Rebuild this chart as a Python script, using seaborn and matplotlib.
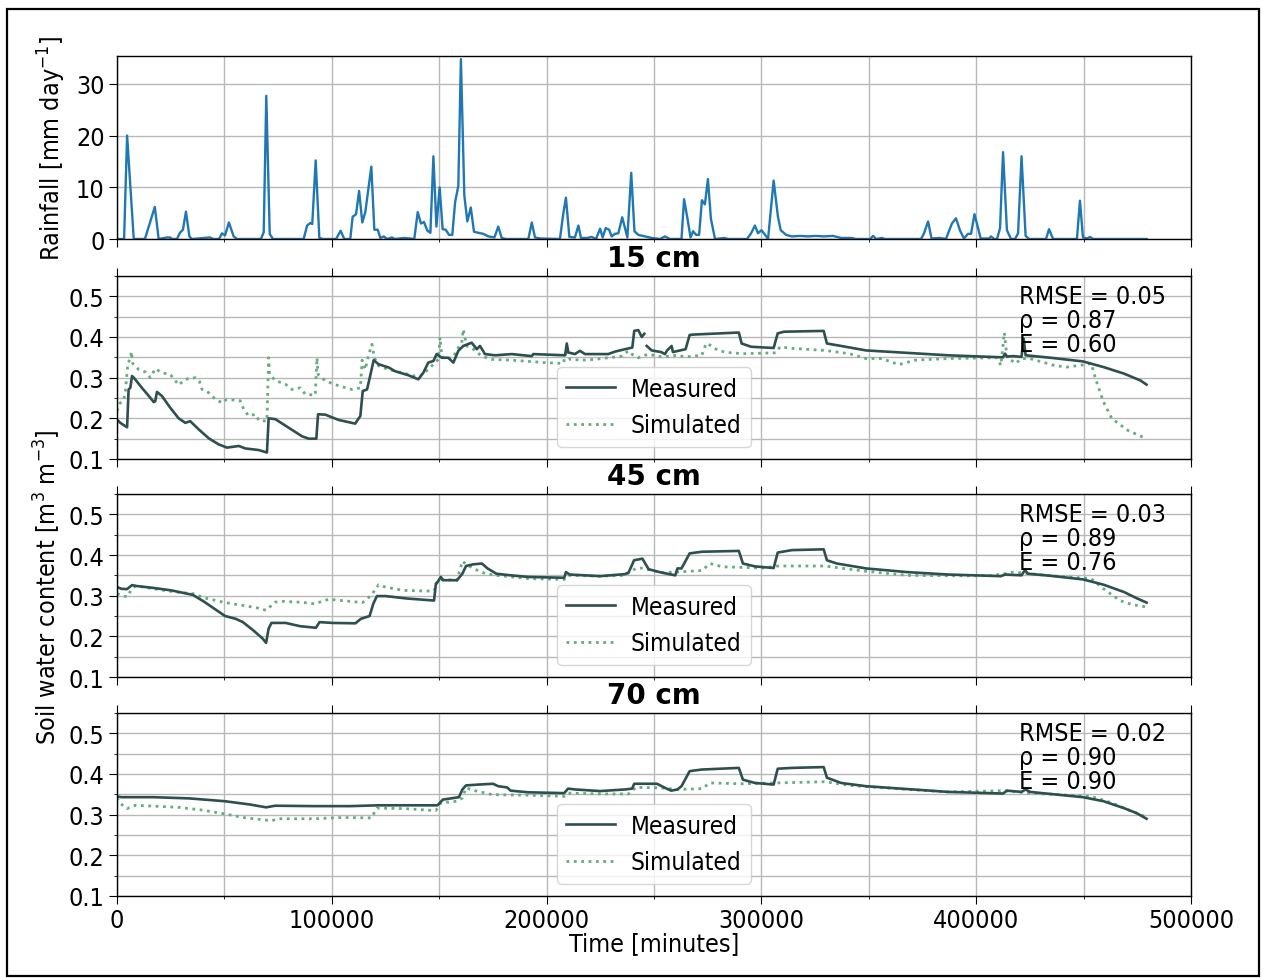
import numpy as np
import pandas as pd
import matplotlib
matplotlib.use("Agg")
import matplotlib.pyplot as plt
from matplotlib.patches import Rectangle
from matplotlib.lines import Line2D
from matplotlib.ticker import MultipleLocator
import seaborn as sns

# ---------------------------------------------------------------- data
rain_time = [
    0, 3300, 4700, 7800, 13000, 17600, 19400, 23300, 24700, 25600,
    27900, 29300, 30700, 32100, 33700, 34900, 43300, 44700, 47500, 48900,
    50300, 52100, 54300, 55900, 67000, 68300, 69500, 71100, 72600, 86900,
    88500, 90000, 90900, 92500, 94200, 95900, 102000, 104100, 105800, 108600,
    109700, 111300, 112700, 114200, 115600, 118400, 119800, 121400, 122600, 124200,
    125700, 128000, 129400, 133600, 136400, 138400, 140000, 141500, 142900, 144500,
    145900, 147300, 148700, 150200, 151600, 153000, 154600, 156100, 157400, 158900,
    160100, 161700, 163100, 164700, 166200, 168200, 170500, 172900, 175700, 177500,
    179100, 181100, 191500, 193100, 194600, 196900, 206200, 207800, 209000, 210600,
    213200, 214800, 216000, 218800, 221000, 223000, 224900, 226100, 227500, 229100,
    230300, 231800, 233400, 235200, 237600, 239400, 240900, 242700, 245800, 248900,
    252800, 255100, 257400, 262800, 264000, 265600, 267000, 268200, 269600, 271000,
    272300, 273700, 275100, 276500, 278400, 282800, 284500, 293300, 295200, 297000,
    298400, 300000, 301200, 303100, 305700, 307700, 309000, 311500, 314200, 318000,
    321700, 325400, 329100, 333300, 337100, 342000, 344000, 350600, 352000, 353400,
    356100, 357500, 374300, 375700, 377600, 379200, 383100, 385900, 388700, 390600,
    392500, 394300, 396200, 397600, 399200, 402100, 406000, 406900, 408300, 409700,
    411100, 412500, 414300, 416200, 418100, 419500, 421100, 423000, 424600, 432500,
    433900, 435800, 446900, 448300, 449700, 451600, 453000, 454400, 479300,
]
rain_mm = [
    0, 0, 20.0, 0, 0, 6.2, 0, 0.3, 0.3, 0,
    0, 1.2, 1.8, 5.3, 0.5, 0, 0.3, 0, 0, 1.1,
    0.7, 3.2, 0.5, 0, 0, 1.3, 27.7, 1.0, 0, 0,
    2.6, 3.1, 2.9, 15.2, 0.2, 0, 0, 1.6, 0, 0,
    4.3, 4.8, 9.3, 3.2, 5.2, 14.0, 1.8, 1.8, 0.2, 0.5,
    0, 0.3, 0, 0.2, 0.1, 0, 5.2, 3.0, 3.3, 1.6,
    1.2, 16.0, 2.4, 10.0, 1.9, 1.8, 0.8, 0.8, 7.1, 10.3,
    34.8, 8.4, 3.4, 6.1, 1.4, 1.2, 1.0, 0.5, 0.3, 2.4,
    0.2, 0, 0, 3.2, 0.3, 0.1, 0, 5.0, 8.0, 0.4,
    0.3, 2.6, 0.2, 0.2, 0.4, 0, 2.0, 0.3, 2.1, 1.8,
    0.5, 1.0, 1.1, 4.2, 0.3, 12.8, 1.5, 0.8, 0.5, 0.2,
    0, 0.5, 0, 0, 7.7, 3.9, 0.3, 1.5, 0.8, 0.8,
    7.5, 6.7, 11.6, 3.9, 0, 0.2, 0, 0, 1.1, 2.6,
    1.1, 1.7, 1.1, 0, 11.3, 4.3, 1.7, 0.8, 0.5, 0.6,
    0.5, 0.6, 0.5, 0.6, 0.2, 0.2, 0, 0, 0.6, 0,
    0.2, 0, 0, 1.1, 3.4, 0.1, 0.2, 0, 3.0, 4.0,
    1.6, 0.1, 1.0, 1.0, 4.8, 0.1, 0.1, 0.5, 0, 0,
    2.1, 16.8, 1.7, 0, 0, 1.1, 16.0, 0.6, 0, 0,
    1.9, 0, 0, 7.4, 0.3, 0.1, 0.4, 0, 0,
]

nan = np.nan

# 15 cm sensor (measured record has a short outage)
m15_time = [
    0, 1500, 4700, 5400, 6200, 7000, 7800, 11600, 14800, 17100,
    17800, 18600, 20900, 24800, 28700, 31800, 34100, 38000, 42700, 47300,
    51200, 56700, 59700, 66000, 69800, 70600, 73700, 79900, 86100, 89200,
    92800, 93600, 97000, 103200, 110900, 113300, 114400, 116400, 117500, 119500,
    121800, 126500, 129400, 135600, 140300, 142600, 144900, 147300, 148800, 151200,
    154200, 156600, 158900, 161200, 165100, 167500, 169000, 171300, 176000, 183800,
    193100, 193800, 208600, 209400, 210100, 213200, 215500, 217900, 228700, 231800,
    236500, 239900, 240800, 242700, 244300, 245500, 246000, 246600, 248900, 253300,
    255100, 256100, 258200, 258800, 264700, 266600, 268500, 289500, 290800, 295200,
    305700, 307600, 310500, 329000, 330500, 337100, 348700, 367800, 386900, 412500,
    413400, 414300, 417300, 421100, 422100, 423000, 434500, 449700, 459300, 468800,
    476500, 479300,
]
m15_theta = [
    0.197, 0.189, 0.178, 0.271, 0.275, 0.304, 0.300, 0.275, 0.255, 0.240,
    0.242, 0.265, 0.255, 0.226, 0.200, 0.189, 0.193, 0.173, 0.151, 0.136,
    0.128, 0.132, 0.126, 0.122, 0.116, 0.200, 0.198, 0.177, 0.156, 0.150,
    0.150, 0.210, 0.209, 0.196, 0.187, 0.206, 0.267, 0.271, 0.296, 0.343,
    0.333, 0.325, 0.316, 0.306, 0.296, 0.312, 0.337, 0.341, 0.358, 0.349,
    0.349, 0.337, 0.366, 0.378, 0.386, 0.370, 0.378, 0.358, 0.355, 0.358,
    0.353, 0.358, 0.355, 0.384, 0.362, 0.358, 0.366, 0.358, 0.358, 0.364,
    0.370, 0.374, 0.415, 0.417, 0.400, 0.408, nan, 0.378, 0.367, 0.363,
    0.358, 0.367, 0.378, 0.363, 0.370, 0.405, 0.406, 0.411, 0.384, 0.376,
    0.373, 0.409, 0.413, 0.415, 0.384, 0.378, 0.367, 0.361, 0.355, 0.350,
    0.359, 0.352, 0.353, 0.351, 0.396, 0.355, 0.349, 0.340, 0.326, 0.310,
    0.293, 0.283,
]
s15_time = [
    0, 1500, 3100, 3900, 5100, 6200, 6700, 7300, 10100, 13200,
    15500, 17800, 20900, 24800, 27100, 28700, 31800, 36500, 38300, 39600,
    42700, 45800, 48900, 51200, 57400, 59000, 61300, 64400, 66000, 69800,
    70600, 71000, 73700, 78400, 81500, 85300, 87700, 92300, 93100, 93600,
    97000, 103200, 109400, 113300, 114100, 115600, 117200, 118700, 119800, 121800,
    126500, 132700, 138700, 141100, 144900, 148000, 149600, 150400, 151200, 152700,
    156600, 158900, 160500, 161200, 162800, 165900, 169800, 174400, 183800, 191500,
    199300, 207800, 209400, 210900, 216300, 222500, 228700, 235000, 238000, 239600,
    242700, 247300, 253600, 260700, 264700, 272300, 274200, 276100, 279800, 283800,
    291400, 306700, 308700, 314200, 329600, 341000, 348700, 356100, 363900, 371500,
    386900, 409700, 411500, 413100, 414300, 418300, 421100, 425000, 436400, 442100,
    447900, 453600, 455500, 459300, 463200, 470700, 478400,
]
s15_theta = [
    0.218, 0.238, 0.244, 0.267, 0.337, 0.345, 0.364, 0.335, 0.320, 0.314,
    0.300, 0.322, 0.312, 0.308, 0.293, 0.282, 0.296, 0.300, 0.292, 0.271,
    0.263, 0.247, 0.238, 0.247, 0.243, 0.222, 0.206, 0.210, 0.195, 0.193,
    0.349, 0.308, 0.293, 0.284, 0.271, 0.275, 0.259, 0.257, 0.349, 0.308,
    0.292, 0.280, 0.271, 0.275, 0.343, 0.320, 0.357, 0.382, 0.349, 0.329,
    0.320, 0.312, 0.304, 0.304, 0.320, 0.337, 0.345, 0.399, 0.353, 0.345,
    0.351, 0.374, 0.386, 0.419, 0.378, 0.370, 0.353, 0.345, 0.343, 0.340,
    0.337, 0.335, 0.370, 0.345, 0.343, 0.345, 0.349, 0.353, 0.366, 0.358,
    0.349, 0.358, 0.351, 0.355, 0.351, 0.355, 0.384, 0.380, 0.367, 0.362,
    0.359, 0.361, 0.376, 0.372, 0.367, 0.359, 0.347, 0.347, 0.332, 0.343,
    0.347, 0.349, 0.330, 0.411, 0.351, 0.335, 0.347, 0.347, 0.330, 0.326,
    0.330, 0.335, 0.298, 0.240, 0.199, 0.170, 0.152,
]

# 45 cm sensor
m45_time = [
    0, 2000, 4600, 7000, 8700, 17000, 25300, 35300, 40300, 45300,
    50300, 55300, 58600, 63600, 67700, 69400, 70600, 71900, 78500, 85200,
    92600, 94300, 100100, 111000, 113500, 117600, 119300, 121000, 125100, 135000,
    147600, 148400, 150800, 151700, 158300, 160800, 162500, 165700, 169900, 172500,
    176600, 183300, 191600, 208200, 209000, 210700, 224900, 236500, 238200, 240700,
    244600, 247500, 253300, 259900, 260900, 262800, 266600, 272300, 289500, 291400,
    297000, 305700, 307600, 314200, 329000, 330500, 335200, 348700, 367800, 386900,
    411500, 413400, 421100, 422700, 424100, 434400, 449700, 459300, 468800, 474600,
    479300,
]
m45_theta = [
    0.321, 0.317, 0.316, 0.326, 0.324, 0.319, 0.313, 0.302, 0.286, 0.268,
    0.250, 0.243, 0.235, 0.214, 0.195, 0.184, 0.219, 0.233, 0.233, 0.225,
    0.221, 0.235, 0.233, 0.232, 0.243, 0.250, 0.280, 0.299, 0.299, 0.293,
    0.288, 0.327, 0.346, 0.338, 0.338, 0.354, 0.373, 0.377, 0.379, 0.367,
    0.354, 0.350, 0.346, 0.344, 0.358, 0.352, 0.348, 0.353, 0.357, 0.387,
    0.391, 0.365, 0.357, 0.350, 0.367, 0.367, 0.404, 0.408, 0.410, 0.379,
    0.372, 0.368, 0.406, 0.412, 0.414, 0.387, 0.379, 0.367, 0.358, 0.352,
    0.348, 0.352, 0.350, 0.363, 0.354, 0.349, 0.340, 0.327, 0.309, 0.294,
    0.283,
]
s45_time = [
    0, 4600, 7000, 8700, 17000, 27000, 35300, 41900, 50300, 58600,
    65200, 69400, 73600, 76800, 85200, 91900, 98500, 108500, 114300, 118400,
    121800, 125100, 133400, 147600, 148400, 150800, 158300, 160800, 162500, 166700,
    171600, 176600, 191600, 208200, 210000, 224900, 236500, 241500, 244800, 248100,
    253300, 260900, 272300, 276100, 281900, 300900, 307600, 329600, 341000, 348700,
    367800, 386900, 406000, 413400, 417300, 425000, 434400, 453400, 459300, 466900,
    472800, 479300,
]
s45_theta = [
    0.305, 0.297, 0.317, 0.324, 0.317, 0.309, 0.305, 0.293, 0.283, 0.276,
    0.270, 0.264, 0.284, 0.286, 0.284, 0.280, 0.291, 0.286, 0.283, 0.301,
    0.327, 0.321, 0.313, 0.311, 0.330, 0.340, 0.338, 0.385, 0.377, 0.365,
    0.354, 0.350, 0.342, 0.340, 0.350, 0.348, 0.350, 0.367, 0.368, 0.363,
    0.357, 0.358, 0.362, 0.379, 0.371, 0.368, 0.373, 0.373, 0.365, 0.360,
    0.350, 0.349, 0.349, 0.354, 0.358, 0.354, 0.349, 0.342, 0.317, 0.288,
    0.278, 0.272,
]

# 70 cm sensor
m70_time = [
    0, 2000, 17000, 33700, 50300, 61900, 69400, 73600, 91900, 108500,
    121800, 141700, 149200, 151700, 156700, 159200, 160800, 162500, 168300, 175000,
    177500, 181600, 183300, 191600, 208200, 210000, 213200, 224900, 236500, 239800,
    240800, 251400, 255100, 258000, 260900, 262800, 266600, 272300, 289500, 291400,
    297000, 305700, 307600, 314200, 329000, 330500, 337100, 348700, 367800, 386900,
    412500, 414300, 421100, 423000, 425000, 434400, 449700, 459300, 468800, 474600,
    479300,
]
m70_theta = [
    0.345, 0.343, 0.343, 0.340, 0.333, 0.325, 0.318, 0.322, 0.321, 0.321,
    0.323, 0.323, 0.323, 0.337, 0.341, 0.343, 0.362, 0.372, 0.374, 0.376,
    0.370, 0.367, 0.359, 0.355, 0.353, 0.364, 0.362, 0.358, 0.362, 0.364,
    0.376, 0.376, 0.366, 0.359, 0.362, 0.370, 0.407, 0.411, 0.415, 0.386,
    0.378, 0.374, 0.413, 0.415, 0.417, 0.391, 0.378, 0.370, 0.363, 0.356,
    0.352, 0.359, 0.356, 0.362, 0.356, 0.351, 0.343, 0.333, 0.316, 0.304,
    0.290,
]
s70_time = [
    0, 1200, 4600, 8700, 17000, 28700, 38600, 50300, 58600, 71900,
    75200, 91900, 105200, 118400, 121000, 133400, 148400, 150800, 158300, 160800,
    162500, 166700, 175000, 191600, 208200, 210000, 224900, 238200, 241500, 253300,
    260900, 272300, 276100, 291400, 306700, 329600, 341000, 367800, 386900, 413400,
    425000, 453400, 463200, 470700, 478400,
]
s70_theta = [
    0.341, 0.329, 0.315, 0.323, 0.321, 0.318, 0.312, 0.302, 0.293, 0.285,
    0.290, 0.290, 0.293, 0.292, 0.316, 0.315, 0.310, 0.329, 0.333, 0.341,
    0.366, 0.359, 0.349, 0.348, 0.345, 0.353, 0.351, 0.351, 0.367, 0.366,
    0.362, 0.364, 0.378, 0.376, 0.378, 0.381, 0.372, 0.362, 0.356, 0.359,
    0.353, 0.345, 0.329, 0.312, 0.296,
]

depths = [15, 45, 70]
rmse = [0.05, 0.03, 0.02]
rho = [0.87, 0.89, 0.90]
nse = [0.60, 0.76, 0.90]

measured = [(m15_time, m15_theta), (m45_time, m45_theta), (m70_time, m70_theta)]
simulated = [(s15_time, s15_theta), (s45_time, s45_theta), (s70_time, s70_theta)]

# ---------------------------------------------------------------- style
FS = 18
plt.rcParams.update({
    "font.family": ["DejaVu Sans"],
    "font.stretch": "condensed",
    "font.size": FS,
    "axes.linewidth": 1.0,
    "axes.edgecolor": "black",
    "xtick.major.size": 5.5,
    "ytick.major.size": 5.5,
    "xtick.minor.size": 2.5,
    "ytick.minor.size": 2.5,
    "xtick.labelsize": FS,
    "ytick.labelsize": FS,
    "legend.fontsize": 17.5,
})

MEAS_COLOR = "#2d504f"
SIM_COLOR = "#66ab82"
RAIN_COLOR = "#1f77b4"
GRID_COLOR = "#b8b8b8"

W_PX, H_PX = 1262, 979
fig = plt.figure(figsize=(W_PX / 100, H_PX / 100), dpi=100)

left_px, right_px = 117, 1191
panels_px = [(57, 240), (277, 460), (495, 678), (714, 897)]
axes = []
for top, bot in panels_px:
    rect = [left_px / W_PX, 1 - bot / H_PX, (right_px - left_px) / W_PX, (bot - top) / H_PX]
    ax = fig.add_axes(rect, sharex=axes[0] if axes else None)
    axes.append(ax)

for ax in axes:
    ax.set_xlim(0, 500000)
    ax.xaxis.set_major_locator(MultipleLocator(100000))
    ax.xaxis.set_minor_locator(MultipleLocator(50000))
    ax.grid(True, which="both", color=GRID_COLOR, lw=1.0)
    ax.set_axisbelow(True)
for ax in axes[:-1]:
    ax.tick_params(axis="x", which="both", labelbottom=False)

# rainfall panel
ax0 = axes[0]
sns.lineplot(x=rain_time, y=rain_mm, ax=ax0, color=RAIN_COLOR, lw=1.7,
             estimator=None, sort=False)
ax0.set_ylim(0, 35.4)
ax0.yaxis.set_major_locator(MultipleLocator(10))
ax0.set_ylabel("")

# soil moisture panels
for i, ax in enumerate(axes[1:]):
    mt, mv = measured[i]
    st, sv = simulated[i]
    mdf = pd.DataFrame({"t": mt, "theta": mv})
    mdf["seg"] = mdf["theta"].isna().cumsum()
    mdf = mdf.dropna()
    sdf = pd.DataFrame({"t": st, "theta": sv})

    sns.lineplot(data=sdf, x="t", y="theta", ax=ax, color=SIM_COLOR, lw=2.0,
                 linestyle=":", estimator=None, sort=False)
    sns.lineplot(data=mdf, x="t", y="theta", units="seg", ax=ax, color=MEAS_COLOR,
                 lw=1.9, estimator=None, sort=False)

    ax.set_ylim(0.1, 0.55)
    ax.yaxis.set_major_locator(MultipleLocator(0.1))
    ax.yaxis.set_minor_locator(MultipleLocator(0.05))
    ax.tick_params(axis="x", which="major", top=True)
    ax.set_xlabel("")
    ax.set_ylabel("")
    ax.set_title(f"{depths[i]} cm", fontweight="bold", fontsize=20,
                 fontstretch="normal", pad=7)

    ax.text(0.84, 0.955,
            f"RMSE = {rmse[i]:.2f}\n\u03c1 = {rho[i]:.2f}\nE = {nse[i]:.2f}",
            transform=ax.transAxes, ha="left", va="top", linespacing=1.0)

    handles = [Line2D([], [], color=MEAS_COLOR, lw=1.9),
               Line2D([], [], color=SIM_COLOR, lw=2.0, linestyle=":")]
    ax.legend(handles, ["Measured", "Simulated"], loc="lower center",
              framealpha=0.8, handletextpad=0.65)

axes[-1].set_xlabel("")
fig.text(654 / W_PX, 1 - 944 / H_PX, "Time [minutes]", ha="center", va="center")
fig.text(52 / W_PX, 1 - 148 / H_PX, "Rainfall [mm day$^{-1}$]", rotation=90,
         ha="center", va="center")
fig.text(47 / W_PX, 1 - 587 / H_PX, "Soil water content [m$^{3}$ m$^{-3}$]",
         rotation=90, ha="center", va="center")

# frame around the whole figure
fig.add_artist(Rectangle((7 / W_PX, 2 / H_PX), (1259 - 7) / W_PX, (977 - 10) / H_PX,
                         transform=fig.transFigure, fill=False,
                         edgecolor="black", lw=1.6))

fig.savefig("out.png", dpi=100)
